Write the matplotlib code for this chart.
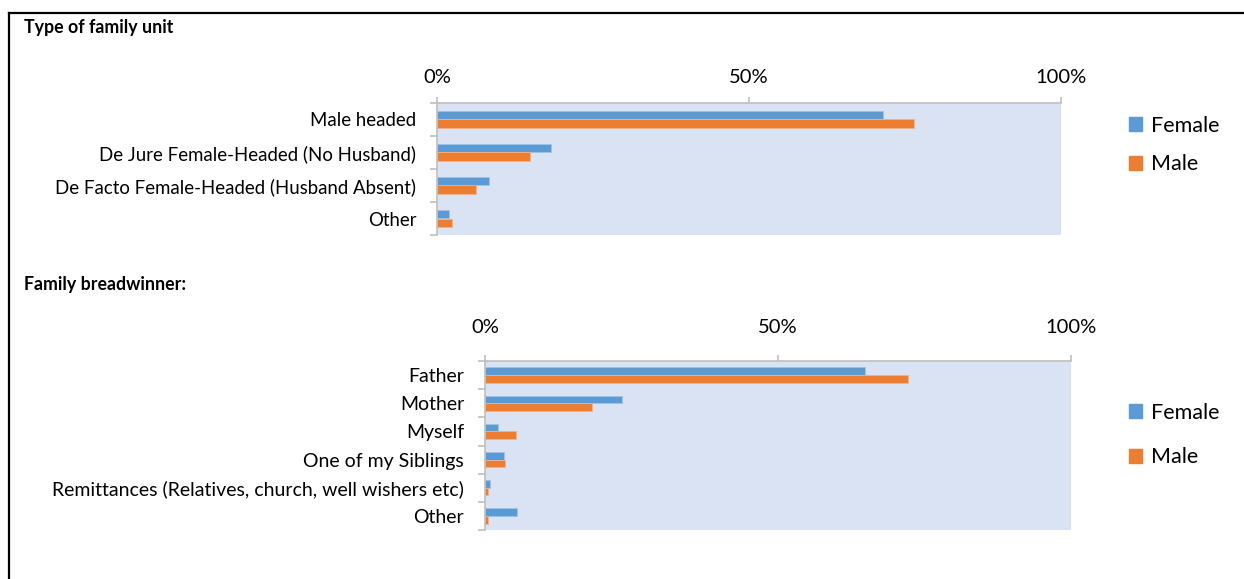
import matplotlib.pyplot as plt
from matplotlib.patches import Patch
from matplotlib.lines import Line2D

plt.rcParams['font.family'] = ['Lato', 'DejaVu Sans']

# data (fractions of respondents)
unit_labels = ['Male headed', 'De Jure Female-Headed (No Husband)',
               'De Facto Female-Headed (Husband Absent)', 'Other']
unit_female = [0.715, 0.183, 0.084, 0.020]
unit_male = [0.764, 0.149, 0.063, 0.024]

earner_labels = ['Father', 'Mother', 'Myself', 'One of my Siblings',
                 'Remittances (Relatives, church, well wishers etc)', 'Other']
earner_female = [0.648, 0.234, 0.022, 0.032, 0.009, 0.055]
earner_male = [0.722, 0.182, 0.053, 0.034, 0.005, 0.005]

x_ticks = [0, 0.5, 1.0]
x_ticklabels = ['0%', '50%', '100%']

BLUE = '#5B9BD5'
ORANGE = '#ED7D31'
BG = '#DAE3F3'
GRID = '#BFBFBF'

W, H = 1244, 579
fig = plt.figure(figsize=(W / 100, H / 100), dpi=100)


def draw(rect, labels, female, male, fs, label_pad, leg_y, leg_space):
    ax = fig.add_axes(rect)
    n = len(labels)
    pos = list(range(n))
    h = 0.27
    ax.barh([p - h / 2 for p in pos], female, height=h, color=BLUE,
            edgecolor='#9DC3E6', linewidth=0.6, label='Female')
    ax.barh([p + h / 2 for p in pos], male, height=h, color=ORANGE,
            edgecolor='#F4B183', linewidth=0.6, label='Male')
    ax.set_xlim(0, 1.0)
    ax.set_ylim(n - 0.5, -0.5)
    ax.set_facecolor(BG)
    for s in ['right', 'bottom']:
        ax.spines[s].set_visible(False)
    for s in ['top', 'left']:
        ax.spines[s].set_color(GRID)
        ax.spines[s].set_linewidth(1.2)
    ax.xaxis.tick_top()
    ax.set_xticks(x_ticks)
    ax.set_xticklabels(x_ticklabels, fontsize=14.5)
    ax.tick_params(axis='x', length=4, color=GRID, width=1.2, pad=label_pad)
    ax.set_yticks([i - 0.5 for i in range(n + 1)])
    ax.set_yticklabels([])
    ax.tick_params(axis='y', which='major', length=5, color=GRID, width=1.2)
    ax.set_yticks(pos, minor=True)
    ax.set_yticklabels(labels, minor=True, fontsize=fs)
    ax.tick_params(axis='y', which='minor', length=0, pad=15)
    handles = [Patch(color=BLUE), Patch(color=ORANGE)]
    fig.legend(handles, ['Female', 'Male'], loc='center left',
               bbox_to_anchor=(1129 / W, leg_y), frameon=False,
               fontsize=15.5, handlelength=0.62, handleheight=0.62,
               handletextpad=0.4, labelspacing=leg_space,
               borderpad=0, borderaxespad=0)
    return ax


draw([437 / W, 1 - 235 / H, 624 / W, 132 / H], unit_labels,
     unit_female, unit_male, 13.4, 8.5, 1 - 145 / H, 0.85)
draw([485 / W, 1 - 530 / H, 586 / W, 169 / H], earner_labels,
     earner_female, earner_male, 14.0, 14, 1 - 435 / H, 1.15)

fig.text(24 / W, 1 - 33 / H, 'Type of family unit', fontsize=12.8,
         fontweight='bold', va='baseline')
fig.text(24 / W, 1 - 290 / H, 'Family breadwinner:', fontsize=12.8,
         fontweight='bold', va='baseline')

# outer frame
fig.add_artist(Line2D([8.5 / W, 1], [1 - 12.5 / H, 1 - 12.5 / H],
                      transform=fig.transFigure, color='black', lw=1.6))
fig.add_artist(Line2D([8.5 / W, 8.5 / W], [1 - 12.5 / H, 0],
                      transform=fig.transFigure, color='black', lw=1.6))

fig.savefig('out.png', dpi=100)
